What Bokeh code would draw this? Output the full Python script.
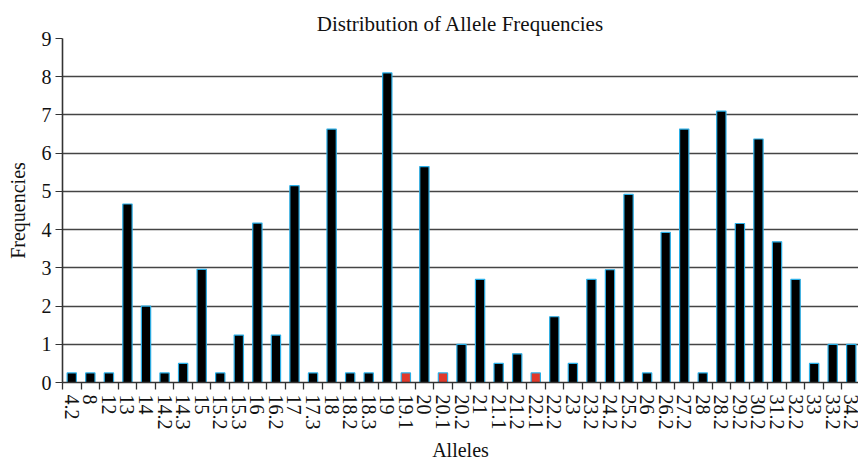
from bokeh.plotting import figure
from bokeh.models import ColumnDataSource, Range1d, FixedTicker
from bokeh.embed import file_html
from bokeh.resources import INLINE

alleles = ["4.2", "8", "12", "13", "14", "14.2", "14.3", "15", "15.2", "15.3",
           "16", "16.2", "17", "17.3", "18", "18.2", "18.3", "19", "19.1", "20",
           "20.1", "20.2", "21", "21.1", "21.2", "22.1", "22.2", "23", "23.2", "24.2",
           "25.2", "26", "26.2", "27.2", "28", "28.2", "29.2", "30.2", "31.2", "32.2",
           "33", "33.2", "34.2"]
frequencies = [0.25, 0.25, 0.25, 4.67, 2.0, 0.25, 0.5, 2.96, 0.25, 1.24,
               4.17, 1.24, 5.15, 0.25, 6.63, 0.25, 0.25, 8.1, 0.25, 5.65,
               0.25, 1.0, 2.7, 0.5, 0.75, 0.25, 1.72, 0.5, 2.7, 2.95,
               4.92, 0.25, 3.93, 6.63, 0.25, 7.1, 4.16, 6.37, 3.68, 2.7,
               0.5, 1.0, 1.0]
highlighted = ["19.1", "20.1", "22.1"]
y_ticks = [0, 1, 2, 3, 4, 5, 6, 7, 8, 9]

FONT = "Liberation Serif"
xs = list(range(len(alleles)))
colors = ["#e0392b" if a in highlighted else "#000000" for a in alleles]
src = ColumnDataSource(dict(x=xs, top=frequencies, color=colors, label=alleles))

p = figure(width=858, height=463, output_backend="svg", toolbar_location=None,
           x_range=Range1d(-0.5, 42.39), y_range=Range1d(0, 9),
           title="Distribution of Allele Frequencies",
           min_border_left=62, min_border_right=0, min_border_top=38, min_border_bottom=0)

p.vbar(x="x", top="top", width=0.5, source=src, fill_color="color",
       line_color="#2aaee6", line_width=1.2)

# title
p.title.align = "center"
p.title.text_font = FONT
p.title.text_font_size = "21px"
p.title.text_font_style = "normal"
p.title.text_color = "#111111"
p.title.standoff = 6

# grid
p.xgrid.grid_line_color = None
p.ygrid.ticker = FixedTicker(ticks=y_ticks)
p.ygrid.grid_line_color = "#444444"
p.ygrid.grid_line_width = 1.3
p.outline_line_color = None

# y axis
p.yaxis.ticker = FixedTicker(ticks=y_ticks)
p.yaxis.axis_label = "Frequencies"
p.yaxis.axis_line_color = "#333333"
p.yaxis.axis_line_width = 1.6
p.yaxis.major_tick_line_color = "#333333"
p.yaxis.major_tick_out = 7
p.yaxis.major_tick_in = 0
p.yaxis.minor_tick_line_color = None
p.yaxis.major_label_standoff = 4
p.yaxis.axis_label_standoff = 10

# x axis
p.xaxis.ticker = FixedTicker(ticks=xs, minor_ticks=[i - 0.5 for i in range(len(alleles) + 1)])
p.xaxis.major_label_overrides = {i: a for i, a in enumerate(alleles)}
p.xaxis.major_label_orientation = "vertical"
p.xaxis.axis_label = "Alleles"
p.xaxis.axis_line_color = "#333333"
p.xaxis.axis_line_width = 1.6
p.xaxis.major_tick_line_color = None
p.xaxis.minor_tick_line_color = "#333333"
p.xaxis.minor_tick_line_width = 1.3
p.xaxis.minor_tick_out = 7
p.xaxis.minor_tick_in = 0
p.xaxis.major_label_standoff = 5
p.xaxis.axis_label_standoff = 6

for ax in (p.xaxis[0], p.yaxis[0]):
    ax.major_label_text_font = FONT
    ax.major_label_text_font_size = "20px"
    ax.major_label_text_color = "#111111"
    ax.axis_label_text_font = FONT
    ax.axis_label_text_font_size = "20px"
    ax.axis_label_text_font_style = "normal"
    ax.axis_label_text_color = "#111111"

open("out.html", "w").write(file_html(p, INLINE))
